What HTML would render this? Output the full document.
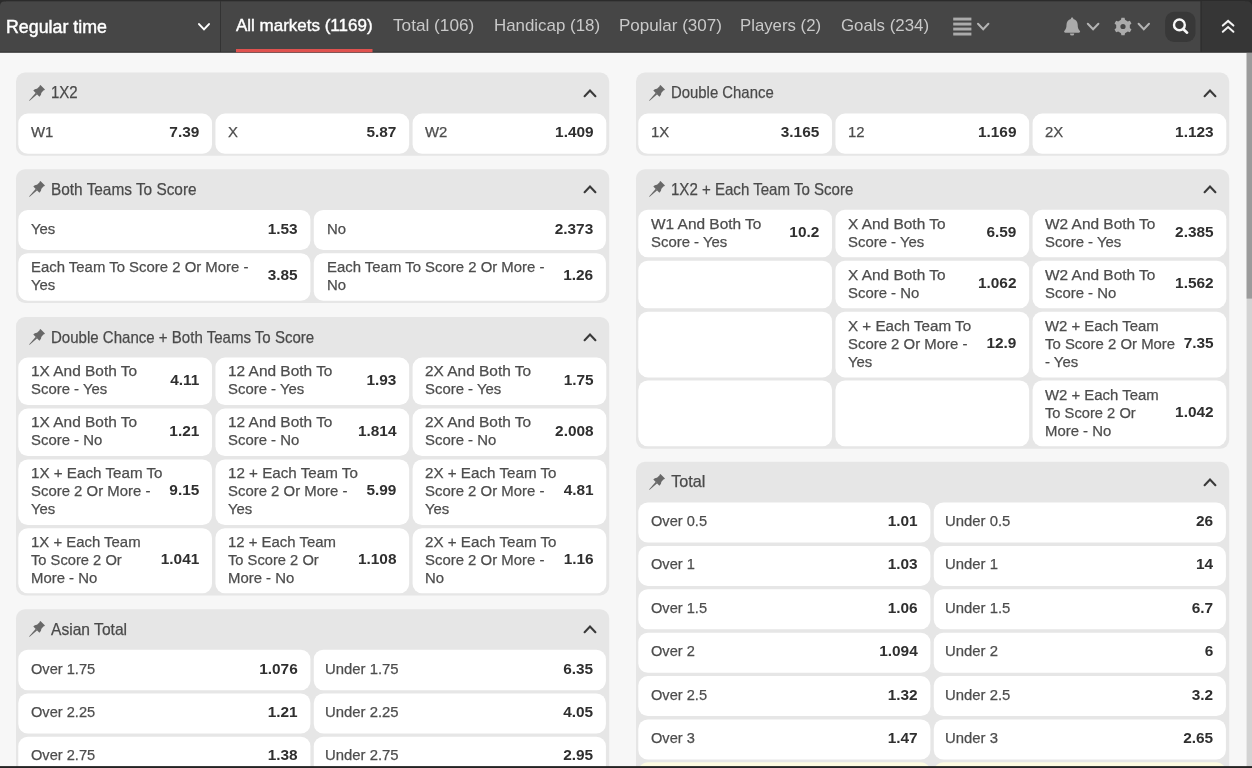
<!DOCTYPE html>
<html><head><meta charset="utf-8"><title>Markets</title><style>
*{box-sizing:border-box;margin:0;padding:0}
html,body{width:1252px;height:768px;overflow:hidden;background:#f7f7f7;font-family:"Liberation Sans", sans-serif;}
body{position:relative}
#w{position:absolute;left:0;top:0;width:1252px;height:768px;overflow:hidden;will-change:transform;filter:blur(0.35px)}
#bg{position:absolute;left:0;top:0}
.rt{position:absolute;left:5.8px;top:15.6px;font-size:18.2px;font-weight:400;-webkit-text-stroke:0.45px #fff;color:#fff;white-space:nowrap;line-height:22px;transform-origin:0 50%;transform:scaleX(.979)}
.tab{position:absolute;top:15.3px;font-size:17px;color:#c9c9c9;white-space:nowrap;line-height:22px;transform-origin:0 50%}
.tab.act{color:#fff;-webkit-text-stroke:0.4px #fff}
.ttl{position:absolute;height:40px;line-height:40px;font-size:16.2px;color:#4a4a4a;-webkit-text-stroke:0.25px #4a4a4a;white-space:nowrap;transform-origin:0 50%;transform:scaleX(.942)}
.pin{position:absolute;width:20px;height:20px}
.chv{position:absolute;width:16px;height:12px}
.lbl{position:absolute;font-size:15.3px;line-height:18px;color:#4d4d4d;-webkit-text-stroke:0.25px #4d4d4d;white-space:nowrap;transform-origin:0 0;}
.ln{display:inline-block;transform-origin:0 50%}
.val{position:absolute;font-size:15.4px;line-height:18px;font-weight:700;color:#2f2f2f;white-space:nowrap;text-align:right;transform-origin:100% 0;}
</style></head>
<body>
<div id="w">
<svg id="bg" width="1252" height="768" viewBox="0 0 1252 768"><rect x="16.00" y="72.60" width="593.20" height="83.10" rx="9" ry="9" fill="#e6e6e6"/>
<rect x="18.30" y="113.60" width="193.70" height="40.20" rx="9.5" ry="9.5" fill="#fff"/>
<rect x="215.45" y="113.60" width="193.70" height="40.20" rx="9.5" ry="9.5" fill="#fff"/>
<rect x="412.60" y="113.60" width="193.70" height="40.20" rx="9.5" ry="9.5" fill="#fff"/>
<rect x="16.00" y="169.25" width="593.20" height="133.75" rx="9" ry="9" fill="#e6e6e6"/>
<rect x="18.30" y="210.00" width="292.10" height="40.00" rx="9.5" ry="9.5" fill="#fff"/>
<rect x="313.80" y="210.00" width="292.10" height="40.00" rx="9.5" ry="9.5" fill="#fff"/>
<rect x="18.30" y="253.25" width="292.10" height="47.45" rx="9.5" ry="9.5" fill="#fff"/>
<rect x="313.80" y="253.25" width="292.10" height="47.45" rx="9.5" ry="9.5" fill="#fff"/>
<rect x="16.00" y="317.00" width="593.20" height="278.50" rx="9" ry="9" fill="#e6e6e6"/>
<rect x="18.30" y="357.60" width="193.70" height="47.50" rx="9.5" ry="9.5" fill="#fff"/>
<rect x="215.45" y="357.60" width="193.70" height="47.50" rx="9.5" ry="9.5" fill="#fff"/>
<rect x="412.60" y="357.60" width="193.70" height="47.50" rx="9.5" ry="9.5" fill="#fff"/>
<rect x="18.30" y="408.60" width="193.70" height="47.50" rx="9.5" ry="9.5" fill="#fff"/>
<rect x="215.45" y="408.60" width="193.70" height="47.50" rx="9.5" ry="9.5" fill="#fff"/>
<rect x="412.60" y="408.60" width="193.70" height="47.50" rx="9.5" ry="9.5" fill="#fff"/>
<rect x="18.30" y="459.50" width="193.70" height="65.50" rx="9.5" ry="9.5" fill="#fff"/>
<rect x="215.45" y="459.50" width="193.70" height="65.50" rx="9.5" ry="9.5" fill="#fff"/>
<rect x="412.60" y="459.50" width="193.70" height="65.50" rx="9.5" ry="9.5" fill="#fff"/>
<rect x="18.30" y="528.30" width="193.70" height="65.00" rx="9.5" ry="9.5" fill="#fff"/>
<rect x="215.45" y="528.30" width="193.70" height="65.00" rx="9.5" ry="9.5" fill="#fff"/>
<rect x="412.60" y="528.30" width="193.70" height="65.00" rx="9.5" ry="9.5" fill="#fff"/>
<rect x="16.00" y="609.25" width="593.20" height="290.75" rx="9" ry="9" fill="#e6e6e6"/>
<rect x="18.30" y="649.80" width="292.10" height="40.40" rx="9.5" ry="9.5" fill="#fff"/>
<rect x="313.80" y="649.80" width="292.10" height="40.40" rx="9.5" ry="9.5" fill="#fff"/>
<rect x="18.30" y="693.40" width="292.10" height="40.10" rx="9.5" ry="9.5" fill="#fff"/>
<rect x="313.80" y="693.40" width="292.10" height="40.10" rx="9.5" ry="9.5" fill="#fff"/>
<rect x="18.30" y="736.80" width="292.10" height="40.20" rx="9.5" ry="9.5" fill="#fff"/>
<rect x="313.80" y="736.80" width="292.10" height="40.20" rx="9.5" ry="9.5" fill="#fff"/>
<rect x="636.00" y="72.60" width="593.20" height="83.10" rx="9" ry="9" fill="#e6e6e6"/>
<rect x="638.30" y="113.60" width="193.70" height="40.20" rx="9.5" ry="9.5" fill="#fff"/>
<rect x="835.45" y="113.60" width="193.70" height="40.20" rx="9.5" ry="9.5" fill="#fff"/>
<rect x="1032.60" y="113.60" width="193.70" height="40.20" rx="9.5" ry="9.5" fill="#fff"/>
<rect x="636.00" y="169.25" width="593.20" height="279.55" rx="9" ry="9" fill="#e6e6e6"/>
<rect x="638.30" y="209.80" width="193.70" height="47.50" rx="9.5" ry="9.5" fill="#fff"/>
<rect x="835.45" y="209.80" width="193.70" height="47.50" rx="9.5" ry="9.5" fill="#fff"/>
<rect x="1032.60" y="209.80" width="193.70" height="47.50" rx="9.5" ry="9.5" fill="#fff"/>
<rect x="638.30" y="260.75" width="193.70" height="47.50" rx="9.5" ry="9.5" fill="#fff"/>
<rect x="835.45" y="260.75" width="193.70" height="47.50" rx="9.5" ry="9.5" fill="#fff"/>
<rect x="1032.60" y="260.75" width="193.70" height="47.50" rx="9.5" ry="9.5" fill="#fff"/>
<rect x="638.30" y="311.75" width="193.70" height="65.65" rx="9.5" ry="9.5" fill="#fff"/>
<rect x="835.45" y="311.75" width="193.70" height="65.65" rx="9.5" ry="9.5" fill="#fff"/>
<rect x="1032.60" y="311.75" width="193.70" height="65.65" rx="9.5" ry="9.5" fill="#fff"/>
<rect x="638.30" y="380.50" width="193.70" height="65.80" rx="9.5" ry="9.5" fill="#fff"/>
<rect x="835.45" y="380.50" width="193.70" height="65.80" rx="9.5" ry="9.5" fill="#fff"/>
<rect x="1032.60" y="380.50" width="193.70" height="65.80" rx="9.5" ry="9.5" fill="#fff"/>
<rect x="636.00" y="461.75" width="593.20" height="438.25" rx="9" ry="9" fill="#e6e6e6"/>
<rect x="638.30" y="502.50" width="292.10" height="40.00" rx="9.5" ry="9.5" fill="#fff"/>
<rect x="933.80" y="502.50" width="292.10" height="40.00" rx="9.5" ry="9.5" fill="#fff"/>
<rect x="638.30" y="545.90" width="292.10" height="40.00" rx="9.5" ry="9.5" fill="#fff"/>
<rect x="933.80" y="545.90" width="292.10" height="40.00" rx="9.5" ry="9.5" fill="#fff"/>
<rect x="638.30" y="589.30" width="292.10" height="40.00" rx="9.5" ry="9.5" fill="#fff"/>
<rect x="933.80" y="589.30" width="292.10" height="40.00" rx="9.5" ry="9.5" fill="#fff"/>
<rect x="638.30" y="632.70" width="292.10" height="40.00" rx="9.5" ry="9.5" fill="#fff"/>
<rect x="933.80" y="632.70" width="292.10" height="40.00" rx="9.5" ry="9.5" fill="#fff"/>
<rect x="638.30" y="676.10" width="292.10" height="40.00" rx="9.5" ry="9.5" fill="#fff"/>
<rect x="933.80" y="676.10" width="292.10" height="40.00" rx="9.5" ry="9.5" fill="#fff"/>
<rect x="638.30" y="719.50" width="292.10" height="40.00" rx="9.5" ry="9.5" fill="#fff"/>
<rect x="933.80" y="719.50" width="292.10" height="40.00" rx="9.5" ry="9.5" fill="#fff"/>
<rect x="638.30" y="762.30" width="292.10" height="40.60" rx="9.5" ry="9.5" fill="#fdfbe1"/>
<rect x="933.80" y="762.30" width="292.10" height="40.60" rx="9.5" ry="9.5" fill="#fdfbe1"/>
<rect x="0" y="0" width="1252" height="53" fill="#464646"/>
<rect x="0" y="0" width="1252" height="1.3" fill="#2b2b2b"/>
<rect x="1201" y="1" width="51" height="51" fill="#363636"/>
<rect x="1200.4" y="1" width="1.3" height="51" fill="#2d2d2d"/>
<rect x="220" y="1" width="1" height="51" fill="#333"/>
<rect x="0" y="51.7" width="1252" height="1.1" fill="#303030"/>
<rect x="0" y="52.8" width="1252" height="0.4" fill="#f7f7f7"/>
<path d="M0 0 H6 V1.2 H4.5 A4.5 4.5 0 0 0 0 5.7 Z" fill="#2b2b2b"/>
<path d="M1252 0 H1245 V1.2 H1247 A5 5 0 0 1 1252 6.2 Z" fill="#2b2b2b"/>
<rect x="236" y="49" width="136.5" height="3.3" fill="#e0524f"/>
<rect x="1246.6" y="53" width="5.4" height="715" fill="#d3d3d3"/>
<rect x="1246.6" y="53" width="5.4" height="245.6" fill="#9b9b9b"/>
<rect x="0" y="766.1" width="1252" height="2" fill="#242424"/></svg>
<div class="rt">Regular time</div>
<svg style="position:absolute;left:195.5px;top:20px" width="16" height="14" viewBox="0 0 16 14"><path d="M3 4.1 L8 9.4 L13 4.1" fill="none" stroke="#fff" stroke-width="2" stroke-linecap="round" stroke-linejoin="miter"/></svg>
<div class="tab act" style="left:236px;transform:scaleX(0.999)">All markets (1169)</div>
<div class="tab" style="left:393.2px;transform:scaleX(1.012)">Total (106)</div>
<div class="tab" style="left:493.7px;transform:scaleX(0.993)">Handicap (18)</div>
<div class="tab" style="left:618.9px;transform:scaleX(1.0)">Popular (307)</div>
<div class="tab" style="left:740.4px;transform:scaleX(0.986)">Players (2)</div>
<div class="tab" style="left:840.5px;transform:scaleX(0.991)">Goals (234)</div>
<svg style="position:absolute;left:940px;top:0" width="312" height="53" viewBox="940 0 312 53">
<g fill="#ababab">
<rect x="953.2" y="17.6" width="18.2" height="2.9"/><rect x="953.2" y="22.6" width="18.2" height="2.9"/><rect x="953.2" y="27.6" width="18.2" height="2.9"/><rect x="953.2" y="32.6" width="18.2" height="2.9"/>
</g>
<g fill="none" stroke="#b4b4b4" stroke-width="2" stroke-linecap="round" stroke-linejoin="miter">
<path d="M978 23.8 L983.2 29.2 L988.4 23.8"/>
<path d="M1087.8 23.8 L1093.1 29.2 L1098.4 23.8"/>
<path d="M1138.6 23.8 L1143.8 29.2 L1149 23.8"/>
</g>
<!-- bell -->
<g fill="#ababab">
<path d="M1072.1 17.4 c0.7 0 1.2 0.5 1.2 1.2 v0.5 c2.7 0.6 4.4 2.8 4.4 5.7 c0 3 0.6 4.6 2 5.9 c0.3 0.3 0.4 0.6 0.4 0.9 c0 0.6 -0.5 1.1 -1.2 1.1 h-13.6 c-0.7 0 -1.2 -0.5 -1.2 -1.1 c0 -0.3 0.1 -0.6 0.4 -0.9 c1.4 -1.3 2 -2.9 2 -5.9 c0 -2.9 1.7 -5.1 4.4 -5.7 v-0.5 c0 -0.7 0.5 -1.2 1.2 -1.2 z"/>
<path d="M1069.9 33.4 h4.4 a2.2 2.2 0 0 1 -4.4 0 z"/>
</g>
<!-- gear -->
<g transform="translate(1123 26.5)" fill="#ababab">
<path fill-rule="evenodd" d="M-2.02 -6.70 L-1.59 -8.86 L1.59 -8.86 L2.02 -6.70 L4.79 -5.10 L6.87 -5.81 L8.47 -3.05 L6.82 -1.60 L6.82 1.60 L8.47 3.05 L6.87 5.81 L4.79 5.10 L2.02 6.70 L1.59 8.86 L-1.59 8.86 L-2.02 6.70 L-4.79 5.10 L-6.87 5.81 L-8.47 3.05 L-6.82 1.60 L-6.82 -1.60 L-8.47 -3.05 L-6.87 -5.81 L-4.79 -5.10 Z M2.6 0 A2.6 2.6 0 1 0 -2.6 0 A2.6 2.6 0 1 0 2.6 0 Z"/>
</g>
<!-- search -->
<rect x="1165.1" y="11.8" width="30.4" height="30.2" rx="9" ry="9" fill="#383838"/>
<circle cx="1179.4" cy="24.9" r="5.4" fill="none" stroke="#f7f7f7" stroke-width="2.4"/>
<path d="M1183.4 29.2 L1187.1 32.7" stroke="#f7f7f7" stroke-width="2.6" stroke-linecap="round"/>
<!-- double chevron -->
<g fill="none" stroke="#f4f4f4" stroke-width="2" stroke-linecap="round" stroke-linejoin="miter">
<path d="M1222.8 25.6 L1228.1 20.9 L1233.4 25.6"/>
<path d="M1222.8 31.8 L1228.1 27.1 L1233.4 31.8"/>
</g>
</svg>

<svg class="pin" style="left:25.90px;top:83.68px" viewBox="-10 -10 20 20"><g transform="rotate(45)" fill="#686868"><path d="M-3.2 -9.5 H3.2 V-8 H2.8 L3 -4.4 C4.1 -3.5 4.3 -2.2 4.3 -0.5 H-4.3 C-4.3 -2.2 -4.1 -3.5 -3 -4.4 L-2.8 -8 H-3.2 Z"/><path d="M-1 -0.7 H1 L0.3 9.2 L0 9.6 L-0.3 9.2 Z"/></g></svg>
<div class="ttl" style="left:51.20px;top:72.25px;transform:scaleX(0.928)">1X2</div>
<svg class="chv" style="left:582.20px;top:86.60px" viewBox="0 0 16 12"><path d="M2.6 9.2 L8 3.6 L13.4 9.2" fill="none" stroke="#3a3a3a" stroke-width="2.1" stroke-linecap="round" stroke-linejoin="miter"/></svg>
<div class="lbl" style="left:31.10px;top:123.20px;transform:scaleX(0.975)">W1</div>
<div class="val" style="left:119.30px;width:80px;top:123.20px;transform:scaleX(1.0)">7.39</div>
<div class="lbl" style="left:228.25px;top:123.20px;transform:scaleX(0.975)">X</div>
<div class="val" style="left:316.45px;width:80px;top:123.20px;transform:scaleX(1.0)">5.87</div>
<div class="lbl" style="left:425.40px;top:123.20px;transform:scaleX(0.975)">W2</div>
<div class="val" style="left:513.60px;width:80px;top:123.20px;transform:scaleX(1.0)">1.409</div>
<svg class="pin" style="left:25.90px;top:180.33px" viewBox="-10 -10 20 20"><g transform="rotate(45)" fill="#686868"><path d="M-3.2 -9.5 H3.2 V-8 H2.8 L3 -4.4 C4.1 -3.5 4.3 -2.2 4.3 -0.5 H-4.3 C-4.3 -2.2 -4.1 -3.5 -3 -4.4 L-2.8 -8 H-3.2 Z"/><path d="M-1 -0.7 H1 L0.3 9.2 L0 9.6 L-0.3 9.2 Z"/></g></svg>
<div class="ttl" style="left:51.20px;top:168.90px;transform:scaleX(0.95)">Both Teams To Score</div>
<svg class="chv" style="left:582.20px;top:183.25px" viewBox="0 0 16 12"><path d="M2.6 9.2 L8 3.6 L13.4 9.2" fill="none" stroke="#3a3a3a" stroke-width="2.1" stroke-linecap="round" stroke-linejoin="miter"/></svg>
<div class="lbl" style="left:31.10px;top:219.50px;transform:scaleX(0.975)">Yes</div>
<div class="val" style="left:217.70px;width:80px;top:219.50px;transform:scaleX(1.0)">1.53</div>
<div class="lbl" style="left:326.60px;top:219.50px;transform:scaleX(0.975)">No</div>
<div class="val" style="left:513.20px;width:80px;top:219.50px;transform:scaleX(1.0)">2.373</div>
<div class="lbl" style="left:31.10px;top:257.68px;transform:scaleX(0.975)">Each Team To Score 2 Or More -<br>Yes</div>
<div class="val" style="left:217.70px;width:80px;top:266.18px;transform:scaleX(1.0)">3.85</div>
<div class="lbl" style="left:326.60px;top:257.68px;transform:scaleX(0.975)">Each Team To Score 2 Or More -<br>No</div>
<div class="val" style="left:513.20px;width:80px;top:266.18px;transform:scaleX(1.0)">1.26</div>
<svg class="pin" style="left:25.90px;top:328.08px" viewBox="-10 -10 20 20"><g transform="rotate(45)" fill="#686868"><path d="M-3.2 -9.5 H3.2 V-8 H2.8 L3 -4.4 C4.1 -3.5 4.3 -2.2 4.3 -0.5 H-4.3 C-4.3 -2.2 -4.1 -3.5 -3 -4.4 L-2.8 -8 H-3.2 Z"/><path d="M-1 -0.7 H1 L0.3 9.2 L0 9.6 L-0.3 9.2 Z"/></g></svg>
<div class="ttl" style="left:51.20px;top:316.65px;transform:scaleX(0.929)">Double Chance + Both Teams To Score</div>
<svg class="chv" style="left:582.20px;top:331.00px" viewBox="0 0 16 12"><path d="M2.6 9.2 L8 3.6 L13.4 9.2" fill="none" stroke="#3a3a3a" stroke-width="2.1" stroke-linecap="round" stroke-linejoin="miter"/></svg>
<div class="lbl" style="left:31.10px;top:362.05px;transform:scaleX(0.975)"><span class="ln" style="transform:scaleX(1.035)">1X And Both To</span><br>Score - Yes</div>
<div class="val" style="left:119.30px;width:80px;top:370.55px;transform:scaleX(1.0)">4.11</div>
<div class="lbl" style="left:228.25px;top:362.05px;transform:scaleX(0.975)"><span class="ln" style="transform:scaleX(1.035)">12 And Both To</span><br>Score - Yes</div>
<div class="val" style="left:316.45px;width:80px;top:370.55px;transform:scaleX(1.0)">1.93</div>
<div class="lbl" style="left:425.40px;top:362.05px;transform:scaleX(0.975)"><span class="ln" style="transform:scaleX(1.035)">2X And Both To</span><br>Score - Yes</div>
<div class="val" style="left:513.60px;width:80px;top:370.55px;transform:scaleX(1.0)">1.75</div>
<div class="lbl" style="left:31.10px;top:413.05px;transform:scaleX(0.975)"><span class="ln" style="transform:scaleX(1.035)">1X And Both To</span><br>Score - No</div>
<div class="val" style="left:119.30px;width:80px;top:421.55px;transform:scaleX(1.0)">1.21</div>
<div class="lbl" style="left:228.25px;top:413.05px;transform:scaleX(0.975)"><span class="ln" style="transform:scaleX(1.035)">12 And Both To</span><br>Score - No</div>
<div class="val" style="left:316.45px;width:80px;top:421.55px;transform:scaleX(1.0)">1.814</div>
<div class="lbl" style="left:425.40px;top:413.05px;transform:scaleX(0.975)"><span class="ln" style="transform:scaleX(1.035)">2X And Both To</span><br>Score - No</div>
<div class="val" style="left:513.60px;width:80px;top:421.55px;transform:scaleX(1.0)">2.008</div>
<div class="lbl" style="left:31.10px;top:463.95px;transform:scaleX(0.975)"><span class="ln" style="transform:scaleX(1.018)">1X + Each Team To</span><br>Score 2 Or More -<br>Yes</div>
<div class="val" style="left:119.30px;width:80px;top:481.45px;transform:scaleX(1.0)">9.15</div>
<div class="lbl" style="left:228.25px;top:463.95px;transform:scaleX(0.975)"><span class="ln" style="transform:scaleX(1.018)">12 + Each Team To</span><br>Score 2 Or More -<br>Yes</div>
<div class="val" style="left:316.45px;width:80px;top:481.45px;transform:scaleX(1.0)">5.99</div>
<div class="lbl" style="left:425.40px;top:463.95px;transform:scaleX(0.975)"><span class="ln" style="transform:scaleX(1.018)">2X + Each Team To</span><br>Score 2 Or More -<br>Yes</div>
<div class="val" style="left:513.60px;width:80px;top:481.45px;transform:scaleX(1.0)">4.81</div>
<div class="lbl" style="left:31.10px;top:532.50px;transform:scaleX(0.975)">1X + Each Team<br><span class="ln" style="transform:scaleX(0.986)">To Score 2 Or</span><br>More - No</div>
<div class="val" style="left:119.30px;width:80px;top:550.00px;transform:scaleX(1.0)">1.041</div>
<div class="lbl" style="left:228.25px;top:532.50px;transform:scaleX(0.975)">12 + Each Team<br><span class="ln" style="transform:scaleX(0.986)">To Score 2 Or</span><br>More - No</div>
<div class="val" style="left:316.45px;width:80px;top:550.00px;transform:scaleX(1.0)">1.108</div>
<div class="lbl" style="left:425.40px;top:532.50px;transform:scaleX(0.975)"><span class="ln" style="transform:scaleX(1.018)">2X + Each Team To</span><br>Score 2 Or More -<br>No</div>
<div class="val" style="left:513.60px;width:80px;top:550.00px;transform:scaleX(1.0)">1.16</div>
<svg class="pin" style="left:25.90px;top:620.33px" viewBox="-10 -10 20 20"><g transform="rotate(45)" fill="#686868"><path d="M-3.2 -9.5 H3.2 V-8 H2.8 L3 -4.4 C4.1 -3.5 4.3 -2.2 4.3 -0.5 H-4.3 C-4.3 -2.2 -4.1 -3.5 -3 -4.4 L-2.8 -8 H-3.2 Z"/><path d="M-1 -0.7 H1 L0.3 9.2 L0 9.6 L-0.3 9.2 Z"/></g></svg>
<div class="ttl" style="left:51.20px;top:608.90px;transform:scaleX(0.964)">Asian Total</div>
<svg class="chv" style="left:582.20px;top:623.25px" viewBox="0 0 16 12"><path d="M2.6 9.2 L8 3.6 L13.4 9.2" fill="none" stroke="#3a3a3a" stroke-width="2.1" stroke-linecap="round" stroke-linejoin="miter"/></svg>
<div class="lbl" style="left:31.10px;top:659.50px;transform:scaleX(0.975)"><span class="ln" style="transform:scaleX(0.98)">Over 1.75</span></div>
<div class="val" style="left:217.70px;width:80px;top:659.50px;transform:scaleX(1.0)">1.076</div>
<div class="lbl" style="left:325.40px;top:659.50px;transform:scaleX(0.975)"><span class="ln" style="transform:scaleX(0.998)">Under 1.75</span></div>
<div class="val" style="left:513.20px;width:80px;top:659.50px;transform:scaleX(1.0)">6.35</div>
<div class="lbl" style="left:31.10px;top:702.95px;transform:scaleX(0.975)"><span class="ln" style="transform:scaleX(0.98)">Over 2.25</span></div>
<div class="val" style="left:217.70px;width:80px;top:702.95px;transform:scaleX(1.0)">1.21</div>
<div class="lbl" style="left:325.40px;top:702.95px;transform:scaleX(0.975)"><span class="ln" style="transform:scaleX(0.998)">Under 2.25</span></div>
<div class="val" style="left:513.20px;width:80px;top:702.95px;transform:scaleX(1.0)">4.05</div>
<div class="lbl" style="left:31.10px;top:746.40px;transform:scaleX(0.975)"><span class="ln" style="transform:scaleX(0.98)">Over 2.75</span></div>
<div class="val" style="left:217.70px;width:80px;top:746.40px;transform:scaleX(1.0)">1.38</div>
<div class="lbl" style="left:325.40px;top:746.40px;transform:scaleX(0.975)"><span class="ln" style="transform:scaleX(0.998)">Under 2.75</span></div>
<div class="val" style="left:513.20px;width:80px;top:746.40px;transform:scaleX(1.0)">2.95</div>
<svg class="pin" style="left:645.90px;top:83.68px" viewBox="-10 -10 20 20"><g transform="rotate(45)" fill="#686868"><path d="M-3.2 -9.5 H3.2 V-8 H2.8 L3 -4.4 C4.1 -3.5 4.3 -2.2 4.3 -0.5 H-4.3 C-4.3 -2.2 -4.1 -3.5 -3 -4.4 L-2.8 -8 H-3.2 Z"/><path d="M-1 -0.7 H1 L0.3 9.2 L0 9.6 L-0.3 9.2 Z"/></g></svg>
<div class="ttl" style="left:671.20px;top:72.25px;transform:scaleX(0.92)">Double Chance</div>
<svg class="chv" style="left:1202.20px;top:86.60px" viewBox="0 0 16 12"><path d="M2.6 9.2 L8 3.6 L13.4 9.2" fill="none" stroke="#3a3a3a" stroke-width="2.1" stroke-linecap="round" stroke-linejoin="miter"/></svg>
<div class="lbl" style="left:651.10px;top:123.20px;transform:scaleX(0.975)">1X</div>
<div class="val" style="left:739.30px;width:80px;top:123.20px;transform:scaleX(1.0)">3.165</div>
<div class="lbl" style="left:848.25px;top:123.20px;transform:scaleX(0.975)">12</div>
<div class="val" style="left:936.45px;width:80px;top:123.20px;transform:scaleX(1.0)">1.169</div>
<div class="lbl" style="left:1045.40px;top:123.20px;transform:scaleX(0.975)">2X</div>
<div class="val" style="left:1133.60px;width:80px;top:123.20px;transform:scaleX(1.0)">1.123</div>
<svg class="pin" style="left:645.90px;top:180.33px" viewBox="-10 -10 20 20"><g transform="rotate(45)" fill="#686868"><path d="M-3.2 -9.5 H3.2 V-8 H2.8 L3 -4.4 C4.1 -3.5 4.3 -2.2 4.3 -0.5 H-4.3 C-4.3 -2.2 -4.1 -3.5 -3 -4.4 L-2.8 -8 H-3.2 Z"/><path d="M-1 -0.7 H1 L0.3 9.2 L0 9.6 L-0.3 9.2 Z"/></g></svg>
<div class="ttl" style="left:671.20px;top:168.90px;transform:scaleX(0.93)">1X2 + Each Team To Score</div>
<svg class="chv" style="left:1202.20px;top:183.25px" viewBox="0 0 16 12"><path d="M2.6 9.2 L8 3.6 L13.4 9.2" fill="none" stroke="#3a3a3a" stroke-width="2.1" stroke-linecap="round" stroke-linejoin="miter"/></svg>
<div class="lbl" style="left:651.10px;top:214.85px;transform:scaleX(0.975)"><span class="ln" style="transform:scaleX(1.035)">W1 And Both To</span><br>Score - Yes</div>
<div class="val" style="left:739.30px;width:80px;top:222.75px;transform:scaleX(1.0)">10.2</div>
<div class="lbl" style="left:848.25px;top:214.85px;transform:scaleX(0.975)"><span class="ln" style="transform:scaleX(1.035)">X And Both To</span><br>Score - Yes</div>
<div class="val" style="left:936.45px;width:80px;top:222.75px;transform:scaleX(1.0)">6.59</div>
<div class="lbl" style="left:1045.40px;top:214.85px;transform:scaleX(0.975)"><span class="ln" style="transform:scaleX(1.035)">W2 And Both To</span><br>Score - Yes</div>
<div class="val" style="left:1133.60px;width:80px;top:222.75px;transform:scaleX(1.0)">2.385</div>
<div class="lbl" style="left:848.25px;top:265.80px;transform:scaleX(0.975)"><span class="ln" style="transform:scaleX(1.035)">X And Both To</span><br>Score - No</div>
<div class="val" style="left:936.45px;width:80px;top:273.70px;transform:scaleX(1.0)">1.062</div>
<div class="lbl" style="left:1045.40px;top:265.80px;transform:scaleX(0.975)"><span class="ln" style="transform:scaleX(1.035)">W2 And Both To</span><br>Score - No</div>
<div class="val" style="left:1133.60px;width:80px;top:273.70px;transform:scaleX(1.0)">1.562</div>
<div class="lbl" style="left:848.25px;top:316.88px;transform:scaleX(0.975)"><span class="ln" style="transform:scaleX(1.018)">X + Each Team To</span><br>Score 2 Or More -<br>Yes</div>
<div class="val" style="left:936.45px;width:80px;top:333.77px;transform:scaleX(1.0)">12.9</div>
<div class="lbl" style="left:1045.40px;top:316.88px;transform:scaleX(0.975)">W2 + Each Team<br>To Score 2 Or More<br>- Yes</div>
<div class="val" style="left:1133.60px;width:80px;top:333.77px;transform:scaleX(1.0)">7.35</div>
<div class="lbl" style="left:1045.40px;top:385.70px;transform:scaleX(0.975)">W2 + Each Team<br><span class="ln" style="transform:scaleX(0.986)">To Score 2 Or</span><br>More - No</div>
<div class="val" style="left:1133.60px;width:80px;top:402.60px;transform:scaleX(1.0)">1.042</div>
<svg class="pin" style="left:645.90px;top:472.83px" viewBox="-10 -10 20 20"><g transform="rotate(45)" fill="#686868"><path d="M-3.2 -9.5 H3.2 V-8 H2.8 L3 -4.4 C4.1 -3.5 4.3 -2.2 4.3 -0.5 H-4.3 C-4.3 -2.2 -4.1 -3.5 -3 -4.4 L-2.8 -8 H-3.2 Z"/><path d="M-1 -0.7 H1 L0.3 9.2 L0 9.6 L-0.3 9.2 Z"/></g></svg>
<div class="ttl" style="left:671.20px;top:461.40px;transform:scaleX(1.0)">Total</div>
<svg class="chv" style="left:1202.20px;top:475.75px" viewBox="0 0 16 12"><path d="M2.6 9.2 L8 3.6 L13.4 9.2" fill="none" stroke="#3a3a3a" stroke-width="2.1" stroke-linecap="round" stroke-linejoin="miter"/></svg>
<div class="lbl" style="left:651.10px;top:512.00px;transform:scaleX(0.975)"><span class="ln" style="transform:scaleX(0.98)">Over 0.5</span></div>
<div class="val" style="left:837.70px;width:80px;top:512.00px;transform:scaleX(1.0)">1.01</div>
<div class="lbl" style="left:945.40px;top:512.00px;transform:scaleX(0.975)"><span class="ln" style="transform:scaleX(0.998)">Under 0.5</span></div>
<div class="val" style="left:1133.20px;width:80px;top:512.00px;transform:scaleX(1.0)">26</div>
<div class="lbl" style="left:651.10px;top:555.40px;transform:scaleX(0.975)"><span class="ln" style="transform:scaleX(0.98)">Over 1</span></div>
<div class="val" style="left:837.70px;width:80px;top:555.40px;transform:scaleX(1.0)">1.03</div>
<div class="lbl" style="left:945.40px;top:555.40px;transform:scaleX(0.975)"><span class="ln" style="transform:scaleX(0.998)">Under 1</span></div>
<div class="val" style="left:1133.20px;width:80px;top:555.40px;transform:scaleX(1.0)">14</div>
<div class="lbl" style="left:651.10px;top:598.80px;transform:scaleX(0.975)"><span class="ln" style="transform:scaleX(0.98)">Over 1.5</span></div>
<div class="val" style="left:837.70px;width:80px;top:598.80px;transform:scaleX(1.0)">1.06</div>
<div class="lbl" style="left:945.40px;top:598.80px;transform:scaleX(0.975)"><span class="ln" style="transform:scaleX(0.998)">Under 1.5</span></div>
<div class="val" style="left:1133.20px;width:80px;top:598.80px;transform:scaleX(1.0)">6.7</div>
<div class="lbl" style="left:651.10px;top:642.20px;transform:scaleX(0.975)"><span class="ln" style="transform:scaleX(0.98)">Over 2</span></div>
<div class="val" style="left:837.70px;width:80px;top:642.20px;transform:scaleX(1.0)">1.094</div>
<div class="lbl" style="left:945.40px;top:642.20px;transform:scaleX(0.975)"><span class="ln" style="transform:scaleX(0.998)">Under 2</span></div>
<div class="val" style="left:1133.20px;width:80px;top:642.20px;transform:scaleX(1.0)">6</div>
<div class="lbl" style="left:651.10px;top:685.60px;transform:scaleX(0.975)"><span class="ln" style="transform:scaleX(0.98)">Over 2.5</span></div>
<div class="val" style="left:837.70px;width:80px;top:685.60px;transform:scaleX(1.0)">1.32</div>
<div class="lbl" style="left:945.40px;top:685.60px;transform:scaleX(0.975)"><span class="ln" style="transform:scaleX(0.998)">Under 2.5</span></div>
<div class="val" style="left:1133.20px;width:80px;top:685.60px;transform:scaleX(1.0)">3.2</div>
<div class="lbl" style="left:651.10px;top:729.00px;transform:scaleX(0.975)"><span class="ln" style="transform:scaleX(0.98)">Over 3</span></div>
<div class="val" style="left:837.70px;width:80px;top:729.00px;transform:scaleX(1.0)">1.47</div>
<div class="lbl" style="left:945.40px;top:729.00px;transform:scaleX(0.975)"><span class="ln" style="transform:scaleX(0.998)">Under 3</span></div>
<div class="val" style="left:1133.20px;width:80px;top:729.00px;transform:scaleX(1.0)">2.65</div>
</div>
</body></html>
